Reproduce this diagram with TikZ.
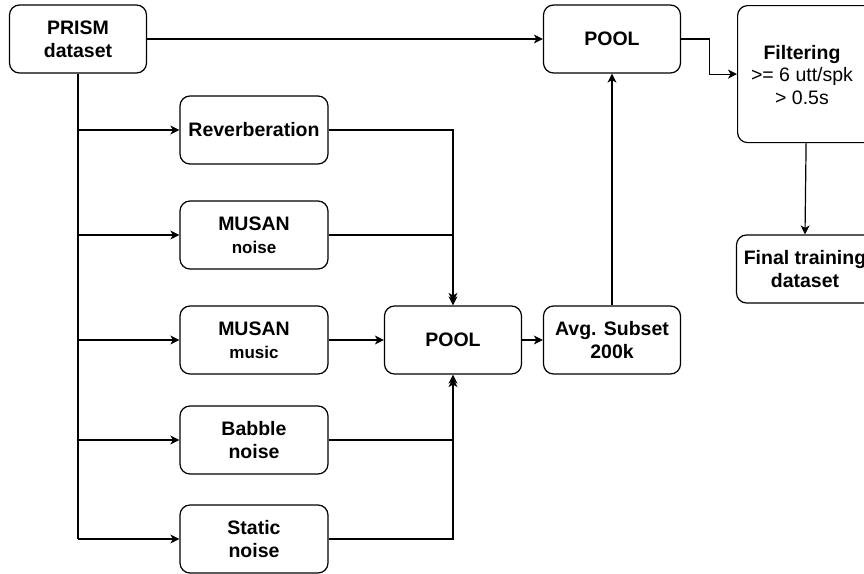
\documentclass[tikz,border=0pt]{standalone}
\usepackage{fontspec}
\setmainfont{Liberation Sans}
\usetikzlibrary{arrows.meta}
\begin{document}
\begin{tikzpicture}[x=1pt,y=-1pt,
  box/.style={draw, line width=1.2pt, rounded corners=10pt, minimum width=137pt, minimum height=68pt, inner sep=0pt, align=center, font=\fontsize{19.5}{23}\selectfont\bfseries},
  wbox/.style={box, minimum width=148pt},
  conn/.style={line width=1.2pt, -{Stealth[length=9pt,width=9pt,inset=2.5pt]}},
  plain/.style={line width=1.2pt}]
\clip (0,0) rectangle (864,573);
\node[box] (prism) at (78,39) {PRISM\\dataset};
\node[box] (pooltop) at (612,39) {POOL};
\node[box, minimum height=137pt, anchor=north west] (filt) at (737,5) {};
\node[align=center, font=\fontsize{19.5}{22.5}\selectfont] (filttext) at (802,75) {\textbf{Filtering}\\>= 6 utt/spk\\> 0.5s};
\node[box] (final) at (805,269) {Final training\\dataset};
\node[wbox] (rev) at (254,130) {Reverberation};
\node[wbox] (mnoise) at (254,235) {MUSAN\\{\fontsize{17}{20}\selectfont noise}};
\node[wbox] (mmusic) at (254,340) {MUSAN\\{\fontsize{17}{20}\selectfont music}};
\node[wbox] (babble) at (254,440) {Babble\\noise};
\node[wbox] (static) at (254,539) {Static\\noise};
\node[box] (pool) at (453,340) {POOL};
\node[box] (avg) at (612,340) {Avg. Subset\\200k};
\coordinate (trunk) at (78,539);
\draw[plain] (prism.south) -- (trunk);
\foreach \n in {rev,mnoise,mmusic,babble,static}{
  \draw[conn] (prism.south |- \n.west) -- (\n.west);
}
\draw[conn] (prism.east) -- (pooltop.west);
\draw[conn, shorten >=3.5pt] (rev.east) -| (pool.north);
\draw[conn] (mnoise.east) -| (pool.north);
\draw[conn] (mmusic.east) -- (pool.west);
\draw[conn, shorten >=3.5pt] (babble.east) -| (pool.south);
\draw[conn] (static.east) -| (pool.south);
\draw[conn] (pool.east) -- (avg.west);
\draw[conn] (avg.north) -- (pooltop.south);
\draw[conn] (pooltop.east) -- ++(28,0) |- (filt.west);
\draw[conn] (filt.south) -- (final.north);
\end{tikzpicture}
\end{document}
